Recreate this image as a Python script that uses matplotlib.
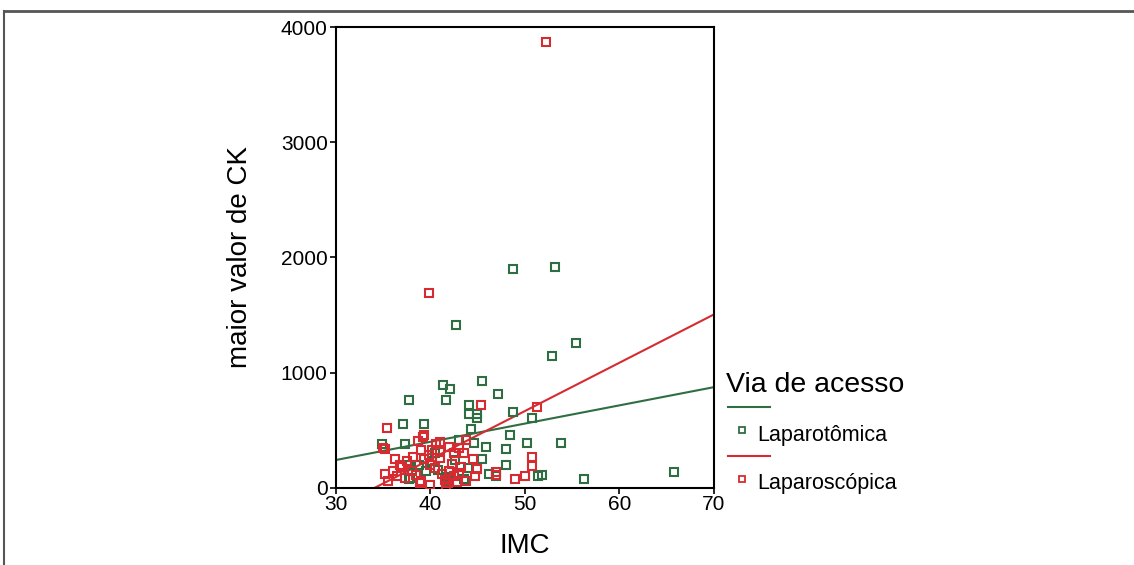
import matplotlib
matplotlib.use("Agg")
import matplotlib.pyplot as plt
from matplotlib.lines import Line2D
import numpy as np

GREEN = "#2f6e43"
RED = "#d62b30"
FRAME = "#555555"

plt.rcParams.update({
    "font.family": ["Liberation Sans", "DejaVu Sans"],
    "axes.linewidth": 1.5,
    "xtick.major.width": 1.2, "ytick.major.width": 1.2,
    "xtick.major.size": 4, "ytick.major.size": 4,
})

# ── Data ─────────────────────────────────────────────────────────────────────
lapt_imc = [48.7, 53.2, 55.4, 52.9, 42.7, 41.3, 42.1, 45.4, 37.7, 41.6,
            47.1, 44.1, 44.1, 44.9, 44.9, 48.7, 50.7, 37.1, 39.3, 44.3,
            48.4, 50.2, 53.8, 34.9, 37.3, 43.0, 44.6, 45.9, 48.0, 45.4,
            48.0, 37.7, 38.8, 51.4, 51.8, 46.2, 46.9, 37.7, 43.5, 56.2,
            65.8, 42.6, 40.8, 41.7, 37.8, 40.5, 42.0, 39.5, 44.0, 40.2]
lapt_ck = [1900, 1916, 1258, 1145, 1414, 893, 858, 928, 763, 763,
           815, 720, 642, 642, 607, 659, 607, 555, 555, 512,
           460, 390, 390, 382, 382, 416, 390, 356, 338, 252,
           200, 200, 200, 104, 113, 121, 104, 78, 78, 78,
           139, 243, 156, 95, 87, 300, 60, 150, 170, 230]

lapc_imc = [52.2, 39.8, 45.3, 51.3, 35.4, 35.2, 39.3, 39.2, 50.7, 50.7,
            50.0, 48.9, 46.9, 46.9, 44.9, 44.7, 35.0, 38.7, 41.0, 42.0,
            43.0, 43.8, 36.0, 36.5, 35.5, 35.2, 37.0, 37.5, 36.8, 38.0,
            38.5, 39.0, 39.3, 39.8, 40.2, 40.0, 40.5, 41.0, 41.2, 41.5,
            41.8, 42.0, 42.3, 42.5, 42.8, 43.2, 43.5, 43.0, 40.0, 39.0,
            38.2, 36.2, 41.0, 40.6, 42.5, 44.5, 43.8, 37.3, 38.9, 41.6]
lapc_ck = [3868, 1691, 720, 703, 520, 338, 460, 442, 269, 191,
           104, 78, 139, 113, 165, 104, 347, 410, 395, 360,
           350, 420, 150, 100, 60, 120, 180, 230, 200, 150,
           110, 60, 250, 290, 330, 200, 170, 260, 120, 70,
           40, 150, 210, 100, 50, 180, 300, 130, 30, 330,
           270, 250, 310, 380, 300, 250, 60, 90, 40, 20]

# fitted lines: (value at IMC 30, slope per unit)
fit_lapt = (243, 15.8)
fit_lapc = (-170, 41.9)

# ── Figure ───────────────────────────────────────────────────────────────────
fig = plt.figure(figsize=(11.34, 5.65), dpi=100)
ax = fig.add_axes([0.2963, 0.1363, 0.3333, 0.8159])

xs = np.array([30, 70])
ax.plot(xs, fit_lapt[0] + fit_lapt[1] * (xs - 30), color=GREEN, lw=1.5, zorder=2)
ax.plot(xs, fit_lapc[0] + fit_lapc[1] * (xs - 30), color=RED, lw=1.5, zorder=2)

ax.plot(lapt_imc, lapt_ck, ls="none", marker="s", ms=5.6, mfc="none",
        mec=GREEN, mew=1.5, zorder=3)
ax.plot(lapc_imc, lapc_ck, ls="none", marker="s", ms=5.6, mfc="none",
        mec=RED, mew=1.5, zorder=3)

ax.set_xlim(30, 70)
ax.set_ylim(0, 4000)
ax.set_xticks([30, 40, 50, 60, 70])
ax.set_yticks([0, 1000, 2000, 3000, 4000])
ax.tick_params(axis="y", labelsize=15, pad=2)
ax.tick_params(axis="x", labelsize=15, pad=1)
ax.set_xlabel("IMC", fontsize=20, labelpad=14)
ax.set_ylabel("maior valor de CK", fontsize=20, labelpad=20)

# ── Legend (SPSS style) ──────────────────────────────────────────────────────
W, H = 1134, 565
def fx(px): return px / W
def fy(py): return 1 - py / H

fig.text(fx(726), fy(385), "Via de acesso", fontsize=20.5, va="center", ha="left")
fig.add_artist(Line2D([fx(728), fx(770)], [fy(407), fy(407)], color=GREEN, lw=1.5))
fig.add_artist(Line2D([fx(742)], [fy(430)], marker="s", ms=4.5, mfc="none",
                      mec=GREEN, mew=1.3, ls="none"))
fig.text(fx(757), fy(435), "Laparotômica", fontsize=15.5, va="center", ha="left")
fig.add_artist(Line2D([fx(728), fx(770)], [fy(456), fy(456)], color=RED, lw=1.5))
fig.add_artist(Line2D([fx(742)], [fy(479)], marker="s", ms=4.5, mfc="none",
                      mec=RED, mew=1.3, ls="none"))
fig.text(fx(757), fy(484), "Laparoscópica", fontsize=15.5, va="center", ha="left")

# ── Outer frame ──────────────────────────────────────────────────────────────
fig.add_artist(Line2D([fx(4), 1.0], [fy(11), fy(11)], color=FRAME, lw=2))
fig.add_artist(Line2D([fx(4), fx(4)], [fy(11), 0.0], color=FRAME, lw=1.5))

fig.savefig("out.png", dpi=100, facecolor="white")
